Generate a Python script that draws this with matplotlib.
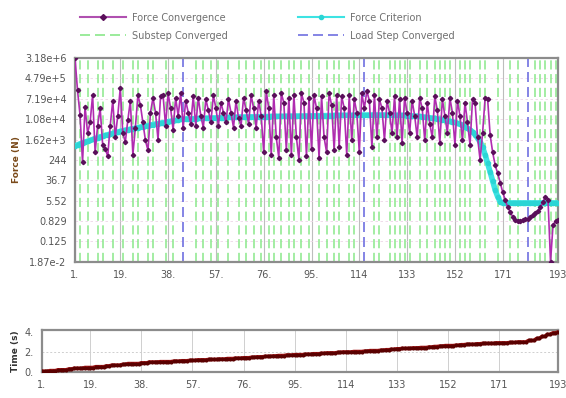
import numpy as np
import matplotlib.pyplot as plt
from matplotlib.lines import Line2D

# cumulative iteration number
iterations = np.arange(1, 194)

# force convergence value per iteration (N)
force_conv = [
    3.2e6, 1.6e5, 1.6e4, 200, 3.5e4, 3e3, 8e3, 1e5, 500, 6e3,
    3e4, 1e3, 700, 350, 6e3, 6e4, 2e3, 1.5e4, 2e5, 3e3,
    1.3e3, 1e4, 6e4, 400, 5e3, 1e5, 4e4, 8e3, 1.5e3, 600,
    2e4, 8e4, 2e4, 1.6e3, 9e4, 1e5, 6e3, 1.2e5, 3e4, 4e3,
    8e4, 1.5e4, 1.2e5, 5e3, 6e4, 2e4, 7e3, 9e4, 6e3, 8e4,
    1.5e4, 5e3, 7e4, 2.5e4, 8e3, 1e5, 3e4, 6e3, 5e4, 2e4,
    8e3, 7e4, 2e4, 5e3, 6e4, 1.2e4, 6e3, 8e4, 2.5e4, 7e3,
    1e5, 3e4, 5e3, 6e4, 1.5e4, 500, 1.5e5, 3e4, 400, 1e5,
    2e3, 300, 1.2e5, 5e4, 600, 8e4, 400, 1e5, 2e3, 250,
    1.2e5, 5e4, 350, 8e4, 700, 1e5, 3e4, 300, 9e4, 2e3,
    500, 1.2e5, 4e4, 600, 1e5, 800, 9e4, 3e4, 400, 1e5,
    1.5e3, 7e4, 2e4, 500, 1.2e5, 3e4, 1.5e5, 6e4, 800, 1e5,
    2e3, 7e4, 3e4, 1.5e3, 6e4, 2e4, 3e3, 9e4, 2e3, 7e4,
    1.2e3, 8e4, 2e4, 3e3, 6e4, 1.5e4, 2e3, 8e4, 3e4, 1.5e3,
    5e4, 7e3, 2e3, 9e4, 2.5e4, 1.2e3, 7e4, 1.5e4, 3e3, 8e4,
    2e4, 1e3, 6e4, 1.5e4, 1.5e3, 5e4, 8e3, 1e3, 7e4, 5e4,
    2e3, 250, 3e3, 8e4, 7e4, 2.5e3, 500, 150, 70, 30,
    12, 6, 3, 2, 1.2, 0.9, 0.8, 0.8, 0.9, 1.0,
    1.0, 1.2, 1.5, 1.8, 2.2, 3.0, 5.0, 8.0, 6.0, 0.019,
    0.6, 0.8, 0.9,
]

# force criterion per iteration (N)
force_crit = [
    900, 1000, 1100, 1200, 1300, 1400, 1500, 1650, 1800, 1950,
    2100, 2250, 2400, 2550, 2700, 2900, 3100, 3300, 3500, 3700,
    3900, 4100, 4300, 4500, 4700, 4950, 5200, 5450, 5700, 6000,
    6300, 6600, 6900, 7200, 7500, 7900, 8300, 8700, 9100, 9500,
    9900, 10300, 10700, 11000, 11100, 11200, 11300, 11400, 11500, 11600,
    11700, 11800, 11900, 12000, 12100, 12200, 12300, 12400, 12500, 12600,
    12700, 12800, 12900, 13000, 13000, 13100, 13200, 13300, 13300, 13400,
    13500, 13500, 13600, 13700, 13700, 13800, 13900, 13900, 14000, 14000,
    14100, 14200, 14200, 14300, 14300, 14400, 14400, 14500, 14500, 14600,
    14600, 14700, 14700, 14800, 14800, 14900, 14900, 15000, 15000, 15100,
    15100, 15200, 15200, 15300, 15300, 15400, 15400, 15500, 15500, 15600,
    15600, 15700, 15700, 15800, 15800, 15900, 15900, 16000, 16000, 16000,
    16000, 16000, 16000, 16000, 16000, 15900, 15900, 15800, 15700, 15600,
    15500, 15400, 15200, 15000, 14800, 14600, 14300, 14000, 13600, 13200,
    12800, 12400, 12000, 11600, 11200, 10800, 10400, 10000, 9500, 9000,
    8500, 8000, 7400, 6800, 6100, 5400, 4700, 4000, 3300, 2600,
    1900, 1300, 800, 400, 180, 80, 35, 15, 8, 5,
    4.5, 4.5, 4.5, 4.5, 4.5, 4.5, 4.5, 4.5, 4.5, 4.5,
    4.5, 4.5, 4.5, 4.5, 4.5, 4.5, 4.5, 4.5, 4.5, 4.5,
    4.5, 4.5, 4.5,
]

# iteration at which each substep converged, and its end time (s)
substep_end = [
    3, 6, 10, 12, 16, 20, 24, 26, 30, 32, 37, 40, 44,
    49, 52, 55, 58, 62, 66, 69, 72, 75, 78, 80, 83, 86, 88, 91, 94, 98,
    101, 104, 106, 110, 112, 116,
    120, 122, 126, 128, 130, 132, 134, 138, 141, 144, 146, 148, 150, 154,
    156, 158, 162, 164, 169, 174, 177, 181,
    184, 186, 188, 190, 192, 193,
]
substep_time = [
    0.08, 0.15, 0.23, 0.31, 0.38, 0.46, 0.54, 0.62, 0.69, 0.77, 0.85, 0.92, 1.0,
    1.04, 1.09, 1.13, 1.17, 1.22, 1.26, 1.30, 1.35, 1.39, 1.43, 1.48, 1.52, 1.57,
    1.61, 1.65, 1.70, 1.74, 1.78, 1.83, 1.87, 1.91, 1.96, 2.0,
    2.05, 2.09, 2.14, 2.18, 2.23, 2.27, 2.32, 2.36, 2.41, 2.45, 2.50, 2.55, 2.59,
    2.64, 2.68, 2.73, 2.77, 2.82, 2.86, 2.91, 2.95, 3.0,
    3.15, 3.35, 3.55, 3.75, 3.9, 4.0,
]
loadstep_end = [44, 116, 181]

x_ticks = [1, 19, 38, 57, 76, 95, 114, 133, 152, 171, 193]
x_labels = ['1.', '19.', '38.', '57.', '76.', '95.', '114', '133', '152', '171', '193']
y_ticks = [3.18e6, 4.79e5, 7.19e4, 1.08e4, 1.62e3, 244, 36.7, 5.52, 0.829, 0.125, 1.87e-2]
y_labels = ['3.18e+6', '4.79e+5', '7.19e+4', '1.08e+4', '1.62e+3', '244',
            '36.7', '5.52', '0.829', '0.125', '1.87e-2']

# time at every iteration = time of the substep it belongs to
counts = np.diff([0] + substep_end)
time_per_iter = np.repeat(substep_time, counts)

plt.rcParams['font.family'] = 'DejaVu Sans'
fig = plt.figure(figsize=(5.66, 3.98), dpi=100)
ax = fig.add_axes([0.1325, 0.342, 0.8535, 0.512])
ax2 = fig.add_axes([0.074, 0.065, 0.912, 0.106])

frame_col = '#8c8c8c'
txt_col = '#555555'

# --- top plot: force convergence ---
for xt in x_ticks:
    ax.axvline(xt, color='#bdbdbd', lw=0.8, zorder=0)
for yt in y_ticks:
    ax.axhline(yt, color='#ecd6e6', lw=0.6, ls=(0, (3, 3)), zorder=0)
for s in substep_end:
    if s not in loadstep_end:
        ax.axvline(s, color='#8ae88a', lw=1.1, ls=(0, (6, 3)), zorder=1)
for s in loadstep_end:
    ax.axvline(s, color='#6f6fe0', lw=1.2, ls=(0, (6, 3)), zorder=1)

ax.plot(iterations, force_crit, color='#3de3e3', lw=4.0, marker='o', ms=3,
        mfc='#2bd5d5', mec='#2bd5d5', zorder=3)
ax.plot(iterations, force_conv, color='#b02cb0', lw=1.2, marker='D', ms=2.2,
        mfc='#5a0f5a', mec='#5a0f5a', zorder=4)

ax.set_yscale('log')
ax.set_ylim(1.87e-2, 3.18e6)
ax.set_xlim(1, 193)
ax.set_yticks(y_ticks)
ax.set_yticklabels(y_labels)
ax.minorticks_off()
ax.set_xticks(x_ticks)
ax.set_xticklabels(x_labels)
ax.set_ylabel('Force (N)', fontsize=6.5, color='#7a4a1a', fontweight='bold', labelpad=3)

# --- bottom plot: time ---
for xt in x_ticks:
    ax2.axvline(xt, color='#cfcfcf', lw=0.7, zorder=0)
ax2.axhline(2, color='#cfcfcf', lw=0.7, ls=(0, (2, 2)), zorder=0)
ax2.plot(iterations, time_per_iter, color='#a51515', lw=2.6, marker='o', ms=2,
         mfc='#5a0000', mec='#5a0000', zorder=3)
ax2.set_xlim(1, 193)
ax2.set_ylim(0, 4.2)
ax2.set_yticks([0, 2, 4])
ax2.set_yticklabels(['0.', '2.', '4.'])
ax2.set_xticks(x_ticks)
ax2.set_xticklabels(x_labels)
ax2.set_ylabel('Time (s)', fontsize=6.5, color='#333333', fontweight='bold', labelpad=3)

for a in (ax, ax2):
    for sp in a.spines.values():
        sp.set_color(frame_col)
        sp.set_linewidth(1.6)
    a.tick_params(length=0, labelsize=7, colors=txt_col, pad=6)

# legend above the top plot
handles = [
    Line2D([], [], color='#b050b0', lw=1.5, marker='D', ms=3, mfc='#5a0f5a', mec='#5a0f5a'),
    Line2D([], [], color='#8ae88a', lw=1.2, ls=(0, (6, 3))),
    Line2D([], [], color='#3de3e3', lw=1.5, marker='o', ms=3, mfc='#2bd5d5', mec='#2bd5d5'),
    Line2D([], [], color='#6f6fe0', lw=1.2, ls=(0, (6, 3))),
]
labels = ['Force Convergence', 'Substep Converged', 'Force Criterion', 'Load Step Converged']
leg = fig.legend(handles, labels, ncol=2, loc='upper left', bbox_to_anchor=(0.125, 0.99),
                 frameon=False, fontsize=7, handlelength=4.8, columnspacing=7.2,
                 handletextpad=0.6, labelspacing=0.8)
for t in leg.get_texts():
    t.set_color('#707070')

fig.savefig('out.png', dpi=100)
